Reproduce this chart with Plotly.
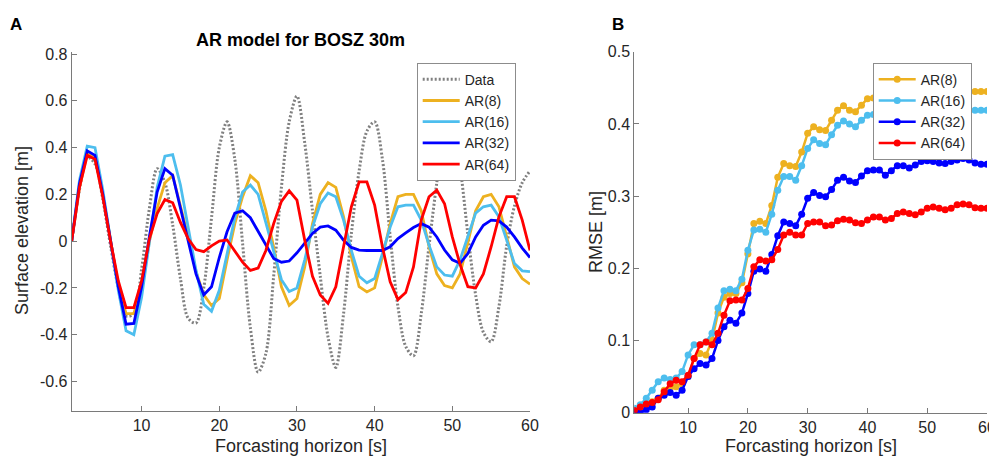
import plotly.graph_objects as go

# ---------------- Data ----------------
t = list(range(1, 61))

data_obs = [0.00, 0.22, 0.36, 0.33, 0.18, -0.02, -0.20, -0.32, -0.31, -0.12,
            0.14, 0.31, 0.25, 0.07, -0.16, -0.33, -0.35, -0.20, 0.10, 0.40,
            0.51, 0.35, -0.01, -0.37, -0.56, -0.48, -0.15, 0.23, 0.51, 0.62,
            0.42, 0.13, -0.15, -0.41, -0.54, -0.31, 0.03, 0.30, 0.47, 0.51,
            0.35, 0.02, -0.28, -0.45, -0.49, -0.31, -0.02, 0.25, 0.48, 0.53,
            0.32, 0.03, -0.23, -0.39, -0.43, -0.28, -0.02, 0.15, 0.25, 0.30]

ar8 = [0.00, 0.23, 0.375, 0.355, 0.20, 0.00, -0.19, -0.31, -0.31, -0.19,
       0.00, 0.14, 0.25, 0.28, 0.15, 0.02, -0.13, -0.23, -0.275, -0.245,
       -0.08, 0.075, 0.19, 0.28, 0.25, 0.13, -0.025, -0.195, -0.275, -0.245,
       -0.11, 0.075, 0.20, 0.25, 0.23, 0.104, -0.067, -0.195, -0.217, -0.20,
       -0.067, 0.075, 0.19, 0.20, 0.20, 0.13, -0.024, -0.14, -0.19, -0.20,
       -0.14, 0.00, 0.13, 0.19, 0.20, 0.147, 0.02, -0.11, -0.16, -0.184]

ar16 = [0.00, 0.26, 0.406, 0.40, 0.22, 0.00, -0.21, -0.383, -0.40, -0.24,
        0.00, 0.23, 0.363, 0.37, 0.24, 0.06, -0.124, -0.27, -0.30, -0.21,
        -0.05, 0.10, 0.21, 0.24, 0.20, 0.075, -0.05, -0.165, -0.215, -0.20,
        -0.08, 0.06, 0.16, 0.206, 0.19, 0.09, -0.04, -0.15, -0.178, -0.16,
        -0.053, 0.06, 0.147, 0.154, 0.154, 0.09, -0.017, -0.11, -0.145, -0.15,
        -0.08, 0.02, 0.12, 0.147, 0.154, 0.104, 0.004, -0.096, -0.127, -0.13]

ar32 = [0.00, 0.245, 0.386, 0.367, 0.20, 0.00, -0.195, -0.355, -0.352, -0.195,
        0.02, 0.21, 0.31, 0.282, 0.14, 0.00, -0.14, -0.23, -0.195, -0.07,
        0.04, 0.12, 0.13, 0.10, 0.04, -0.017, -0.074, -0.09, -0.085, -0.05,
        -0.01, 0.033, 0.06, 0.065, 0.047, 0.004, -0.027, -0.038, -0.04, -0.04,
        -0.04, -0.024, 0.011, 0.035, 0.058, 0.075, 0.06, 0.018, -0.038, -0.08,
        -0.095, -0.053, 0.018, 0.068, 0.09, 0.087, 0.06, 0.018, -0.03, -0.07]

ar64 = [0.00, 0.23, 0.367, 0.35, 0.19, 0.00, -0.17, -0.284, -0.284, -0.17,
        0.01, 0.118, 0.178, 0.164, 0.08, 0.01, -0.036, -0.045, -0.02, 0.00,
        0.005, -0.045, -0.09, -0.125, -0.115, -0.04, 0.075, 0.17, 0.215, 0.175,
        0.004, -0.15, -0.23, -0.266, -0.195, -0.024, 0.147, 0.253, 0.253, 0.154,
        -0.024, -0.174, -0.25, -0.22, -0.11, 0.09, 0.19, 0.218, 0.16, 0.018,
        -0.10, -0.195, -0.20, -0.14, -0.024, 0.104, 0.19, 0.19, 0.09, -0.04]

rmse8 = [0.004, 0.008, 0.012, 0.015, 0.020, 0.031, 0.034, 0.036, 0.040, 0.050,
         0.075, 0.082, 0.080, 0.100, 0.138, 0.160, 0.165, 0.165, 0.180, 0.220,
         0.262, 0.265, 0.262, 0.287, 0.326, 0.345, 0.342, 0.341, 0.361, 0.387,
         0.396, 0.392, 0.391, 0.405, 0.419, 0.425, 0.419, 0.417, 0.426, 0.435,
         0.436, 0.434, 0.438, 0.441, 0.440, 0.442, 0.444, 0.443, 0.444, 0.446,
         0.447, 0.446, 0.445, 0.446, 0.447, 0.446, 0.445, 0.445, 0.445, 0.445]

rmse16 = [0.006, 0.011, 0.020, 0.031, 0.043, 0.048, 0.046, 0.048, 0.057, 0.080,
          0.094, 0.094, 0.098, 0.110, 0.145, 0.169, 0.171, 0.169, 0.185, 0.225,
          0.253, 0.254, 0.250, 0.275, 0.308, 0.327, 0.327, 0.322, 0.342, 0.366,
          0.378, 0.373, 0.371, 0.385, 0.398, 0.404, 0.400, 0.396, 0.405, 0.412,
          0.413, 0.412, 0.414, 0.416, 0.415, 0.417, 0.418, 0.417, 0.418, 0.419,
          0.420, 0.419, 0.418, 0.419, 0.420, 0.419, 0.419, 0.419, 0.419, 0.419]

rmse32 = [0.001, 0.000, 0.004, 0.008, 0.020, 0.024, 0.028, 0.024, 0.031, 0.050,
          0.061, 0.068, 0.066, 0.075, 0.100, 0.119, 0.128, 0.124, 0.138, 0.165,
          0.196, 0.199, 0.196, 0.219, 0.245, 0.264, 0.262, 0.259, 0.275, 0.297,
          0.305, 0.301, 0.299, 0.309, 0.322, 0.326, 0.321, 0.319, 0.328, 0.335,
          0.336, 0.336, 0.329, 0.335, 0.342, 0.342, 0.339, 0.343, 0.348, 0.349,
          0.348, 0.346, 0.345, 0.348, 0.350, 0.352, 0.350, 0.346, 0.344, 0.344]

rmse64 = [0.003, 0.008, 0.012, 0.014, 0.018, 0.029, 0.040, 0.045, 0.043, 0.052,
          0.075, 0.094, 0.098, 0.094, 0.110, 0.135, 0.155, 0.156, 0.156, 0.172,
          0.202, 0.212, 0.210, 0.212, 0.226, 0.246, 0.250, 0.246, 0.246, 0.262,
          0.264, 0.264, 0.259, 0.260, 0.266, 0.268, 0.267, 0.263, 0.262, 0.267,
          0.271, 0.271, 0.267, 0.269, 0.276, 0.278, 0.276, 0.274, 0.278, 0.283,
          0.285, 0.283, 0.281, 0.283, 0.288, 0.289, 0.288, 0.284, 0.283, 0.283]

left_yticks = [-0.6, -0.4, -0.2, 0, 0.2, 0.4, 0.6, 0.8]
left_yticktext = ["-0.6", "-0.4", "-0.2", "0", "0.2", "0.4", "0.6", "0.8"]
right_yticks = [0, 0.1, 0.2, 0.3, 0.4, 0.5]
right_yticktext = ["0", "0.1", "0.2", "0.3", "0.4", "0.5"]
xticks = [10, 20, 30, 40, 50, 60]

# ---------------- Style ----------------
C_Y = "#EDB120"
C_C = "#4DBEEE"
C_B = "#0000FF"
C_R = "#FF0000"
C_D = "#808080"
FONT = "Liberation Sans, Arial, sans-serif"
TXT = "#262626"
AXC = "#7a7a7a"

# the page body has an 8px margin; the figure is sized to fit inside the window
OFF = 8
W, H = 997 - OFF, 466 - 2 * OFF
def px_x(p):
    return (p - OFF) / W
def px_y(p):
    return 1 - (p - OFF) / H

fig = go.Figure()

# Left panel
fig.add_trace(go.Scatter(x=t, y=data_obs, name="Data", mode="lines",
                         line=dict(color=C_D, width=3, dash="2px,2px", shape="spline", smoothing=0.9),
                         xaxis="x", yaxis="y", legend="legend"))
for name, ys, c in [("AR(8)", ar8, C_Y), ("AR(16)", ar16, C_C),
                    ("AR(32)", ar32, C_B), ("AR(64)", ar64, C_R)]:
    fig.add_trace(go.Scatter(x=t, y=ys, name=name, mode="lines",
                             line=dict(color=c, width=2.8),
                             xaxis="x", yaxis="y", legend="legend"))

# Right panel
for name, ys, c in [("AR(8)", rmse8, C_Y), ("AR(16)", rmse16, C_C),
                    ("AR(32)", rmse32, C_B), ("AR(64)", rmse64, C_R)]:
    fig.add_trace(go.Scatter(x=t, y=ys, name=name, mode="lines+markers",
                             line=dict(color=c, width=2.5),
                             marker=dict(color=c, size=7),
                             xaxis="x2", yaxis="y2", legend="legend2"))

axis_common = dict(showline=True, linecolor=AXC, linewidth=1, ticks="inside",
                   ticklen=5, tickcolor=AXC, showgrid=False, zeroline=False,
                   automargin=False,
                   tickfont=dict(family=FONT, size=16, color=TXT), mirror=False)

fig.update_layout(
    template="none",
    width=W, height=H,
    margin=dict(l=0, r=0, t=0, b=0, pad=0, autoexpand=False),
    paper_bgcolor="white", plot_bgcolor="white",
    showlegend=True,
    xaxis=dict(domain=[px_x(71.7), px_x(530)], range=[1, 60],
               tickvals=xticks, anchor="y", **axis_common),
    yaxis=dict(domain=[px_y(410.7), px_y(51.7)], range=[-0.725, 0.81],
               tickvals=left_yticks, ticktext=left_yticktext, anchor="x", **axis_common),
    xaxis2=dict(domain=[px_x(634.3), px_x(987)], range=[1, 60],
                tickvals=xticks, anchor="y2", **axis_common),
    yaxis2=dict(domain=[px_y(412.7), px_y(51.7)], range=[0, 0.5],
                tickvals=right_yticks, ticktext=right_yticktext, anchor="x2", **axis_common),
    legend=dict(x=px_x(416.7), y=px_y(62.7), xanchor="left", yanchor="top",
                bgcolor="white", bordercolor="#8c8c8c", borderwidth=1, itemwidth=37,
                font=dict(family=FONT, size=14, color=TXT), tracegroupgap=0),
    legend2=dict(x=px_x(872.7), y=px_y(62.7), xanchor="left", yanchor="top",
                 bgcolor="white", bordercolor="#8c8c8c", borderwidth=1, itemwidth=37,
                 font=dict(family=FONT, size=14, color=TXT), tracegroupgap=0),
    annotations=[
        dict(text="<b>A</b>", x=px_x(8), y=px_y(24), xref="paper", yref="paper",
             xanchor="left", yanchor="middle", showarrow=False,
             font=dict(family=FONT, size=17, color="black")),
        dict(text="<b>B</b>", x=px_x(610), y=px_y(24), xref="paper", yref="paper",
             xanchor="left", yanchor="middle", showarrow=False,
             font=dict(family=FONT, size=17, color="black")),
        dict(text="<b>AR model for BOSZ 30m</b>", x=px_x(300), y=px_y(40), xref="paper", yref="paper",
             xanchor="center", yanchor="middle", showarrow=False,
             font=dict(family=FONT, size=18, color="black")),
        dict(text="Forcasting horizon [s]", x=px_x(300.8), y=px_y(446), xref="paper", yref="paper",
             xanchor="center", yanchor="middle", showarrow=False,
             font=dict(family=FONT, size=18, color=TXT)),
        dict(text="Forcasting horizon [s]", x=px_x(810.6), y=px_y(446), xref="paper", yref="paper",
             xanchor="center", yanchor="middle", showarrow=False,
             font=dict(family=FONT, size=18, color=TXT)),
        dict(text="Surface elevation [m]", x=px_x(22), y=px_y(231), xref="paper", yref="paper",
             xanchor="center", yanchor="middle", showarrow=False, textangle=-90,
             font=dict(family=FONT, size=18, color=TXT)),
        dict(text="RMSE [m]", x=px_x(596), y=px_y(232), xref="paper", yref="paper",
             xanchor="center", yanchor="middle", showarrow=False, textangle=-90,
             font=dict(family=FONT, size=18, color=TXT)),
    ],
)

fig.write_html("out.html")
